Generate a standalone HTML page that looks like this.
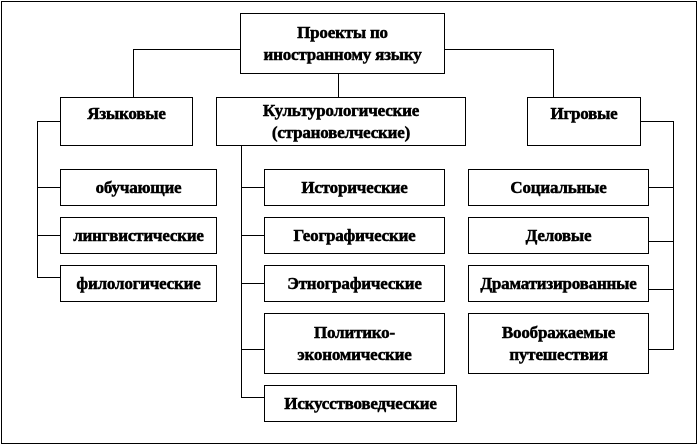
<!DOCTYPE html>
<html><head><meta charset="utf-8"><style>
body{margin:0;width:698px;height:446px;background:#fff;position:relative;overflow:hidden;font-family:"Liberation Serif","DejaVu Serif",serif;}
.b{position:absolute;border:1px solid #000;box-sizing:border-box;display:flex;align-items:center;justify-content:center;text-align:center;font-weight:bold;font-size:17px;line-height:22px;-webkit-text-stroke:0.5px #000;white-space:nowrap;letter-spacing:-0.2px}
.h{position:absolute;height:1px;background:#000}
.v{position:absolute;width:1px;background:#000}
</style></head><body>
<div class="b" style="left:1px;top:1px;width:696px;height:443px;border-width:1.5px"></div>
<div class="b" style="left:240px;top:13px;width:205px;height:61px">Проекты по<br>иностранному языку</div>
<div class="h" style="left:133px;top:49px;width:107px"></div>
<div class="v" style="left:133px;top:49px;height:48px"></div>
<div class="h" style="left:445px;top:49px;width:108px"></div>
<div class="v" style="left:553px;top:49px;height:48px"></div>
<div class="v" style="left:338px;top:74px;height:23px"></div>
<div class="b" style="left:60px;top:97px;width:133px;height:49px;align-items:flex-start;padding-top:5px">Языковые</div>
<div class="b" style="left:216px;top:97px;width:250px;height:49px">Культурологические<br>(страновелческие)</div>
<div class="b" style="left:527px;top:97px;width:114px;height:49px;align-items:flex-start;padding-top:5px">Игровые</div>
<div class="h" style="left:37px;top:121px;width:23px"></div>
<div class="v" style="left:37px;top:121px;height:157px"></div>
<div class="h" style="left:37px;top:187px;width:23px"></div>
<div class="h" style="left:37px;top:235px;width:23px"></div>
<div class="h" style="left:37px;top:277px;width:23px"></div>
<div class="b" style="left:60px;top:169px;width:157px;height:37px">обучающие</div>
<div class="b" style="left:60px;top:217px;width:157px;height:37px">лингвистические</div>
<div class="b" style="left:60px;top:265px;width:157px;height:37px">филологические</div>
<div class="v" style="left:241px;top:146px;height:252px"></div>
<div class="h" style="left:241px;top:187px;width:23px"></div>
<div class="h" style="left:241px;top:235px;width:23px"></div>
<div class="h" style="left:241px;top:283px;width:23px"></div>
<div class="h" style="left:241px;top:349px;width:23px"></div>
<div class="h" style="left:241px;top:397px;width:23px"></div>
<div class="b" style="left:264px;top:169px;width:181px;height:37px">Исторические</div>
<div class="b" style="left:264px;top:217px;width:181px;height:37px">Географические</div>
<div class="b" style="left:264px;top:265px;width:181px;height:37px">Этнографические</div>
<div class="b" style="left:264px;top:313px;width:181px;height:61px">Политико-<br>экономические</div>
<div class="b" style="left:264px;top:385px;width:193px;height:37px">Искусствоведческие</div>
<div class="h" style="left:641px;top:121px;width:33px"></div>
<div class="v" style="left:673px;top:121px;height:229px"></div>
<div class="h" style="left:648px;top:187px;width:26px"></div>
<div class="h" style="left:648px;top:241px;width:26px"></div>
<div class="h" style="left:648px;top:289px;width:26px"></div>
<div class="h" style="left:648px;top:349px;width:26px"></div>
<div class="b" style="left:468px;top:169px;width:181px;height:37px">Социальные</div>
<div class="b" style="left:468px;top:217px;width:181px;height:37px">Деловые</div>
<div class="b" style="left:468px;top:265px;width:181px;height:37px">Драматизированные</div>
<div class="b" style="left:468px;top:313px;width:181px;height:61px">Воображаемые<br>путешествия</div>
</body></html>
